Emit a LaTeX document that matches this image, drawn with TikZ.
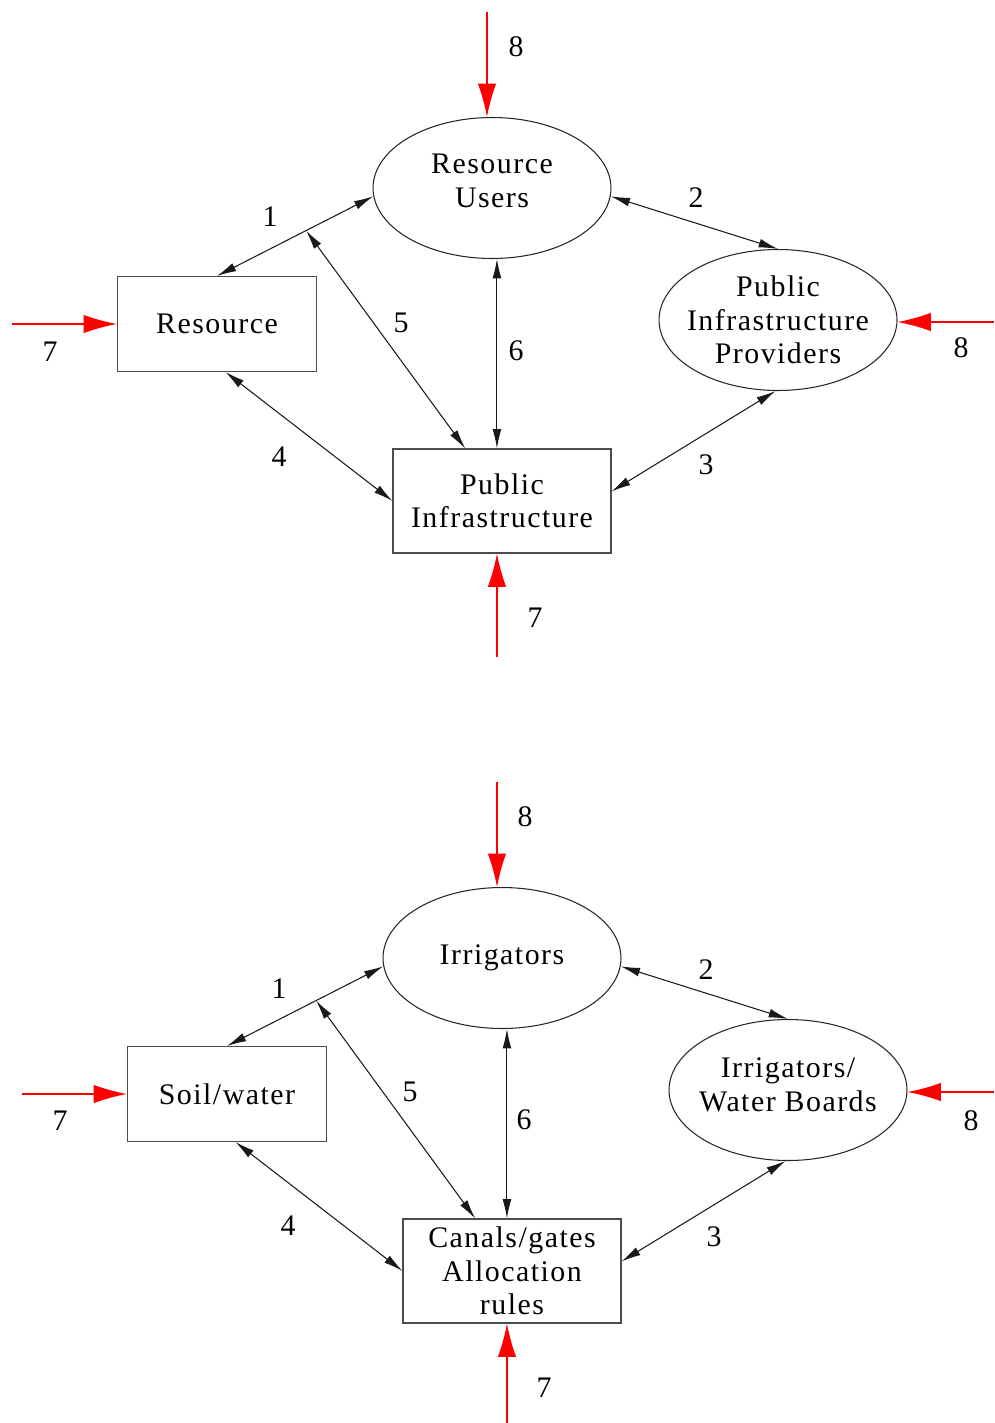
\documentclass[tikz,border=0pt]{standalone}
\usepackage{fontspec}
\setmainfont{Liberation Serif}[LetterSpace=5]
\usetikzlibrary{shapes.geometric}
\usetikzlibrary{arrows.meta}

\begin{document}
\begin{tikzpicture}[x=0.02cm, y=-0.02cm, line width=0.6pt,
    font=\fontsize{17}{19}\selectfont,
    oval/.style ={ellipse, draw=black!85, minimum width=4.76cm, minimum height=2.82cm, inner sep=0pt},
    box/.style ={rectangle, draw=black!70, align=center, inner sep=0pt, minimum width=3.98cm, minimum height=1.9cm},
    bigbox/.style ={box, minimum width=4.36cm, minimum height=2.08cm},
    txt/.style ={align=center, inner sep=0pt},
    link/.style ={{Latex[length=11pt,width=5pt]}-{Latex[length=11pt,width=5pt]}, black!90},
    driver/.style ={-{Latex[length=19pt,width=10.5pt]}, red, line width=0.75pt},
    num/.style ={inner sep=1pt}]
  \useasboundingbox (0,0) rectangle (994,1423);

  % general framework
  \begin{scope}
    \node[oval] (RU) at (492,188) {} ;
    \node[txt, yshift=4pt] (RUt) at (RU) {Resource\\Users};
    \node[box] (R) at (217,324) {Resource};
    \node[oval] (PIP) at (778,320) {} ;
    \node[txt] (PIPt) at (PIP) {Public\\Infrastructure\\Providers};
    \node[bigbox] (PI) at (502,501) {Public\\Infrastructure};

    \draw[link] (R.north) -- coordinate[pos=0.57] (m1) (RU.184);
    \draw[link] (RU.356) -- (PIP.north);
    \draw[link] (PI.5) -- (PIP.268);
    \draw[link] (R.280) -- (PI.west);
    \draw[link] (PI.125) -- (m1);
    \draw[link] (RU.274) -- (PI.north -| RU.274);

    \coordinate (s8a) at (487,12);
    \coordinate (s7a) at (12,324);
    \coordinate (s8b) at (994,322);
    \coordinate (s7b) at (497,657);
    \draw[driver] (s8a) -- (s8a |- RU.north);
    \draw[driver] (s7a) -- (R.west);
    \draw[driver] (s8b) -- (s8b -| PIP.east);
    \draw[driver] (s7b) -- (s7b |- PI.south);

    \node[num] (n1) at (270,217) {1};
    \node[num] (n2) at (696,198) {2};
    \node[num] (n3) at (706,465) {3};
    \node[num] (n4) at (279,457) {4};
    \node[num] (n5) at (401,323) {5};
    \node[num] (n6) at (516,351) {6};
    \node[num] (n7a) at (50,352) {7};
    \node[num] (n7b) at (535,618) {7};
    \node[num] (n8a) at (516,47) {8};
    \node[num] (n8b) at (961,348) {8};
  \end{scope}

  % irrigation example
  \begin{scope}[shift={(10,770)}]
    \node[oval] (IR) at (492,188) {} ;
    \node[txt] (IRt) at (IR) {Irrigators};
    \node[box] (SW) at (217,324) {Soil/water};
    \node[oval] (WB) at (778,320) {} ;
    \node[txt, yshift=3pt] (WBt) at (WB) {Irrigators/\\Water Boards};
    \node[bigbox] (CG) at (502,501) {Canals/gates\\Allocation\\rules};

    \draw[link] (SW.north) -- coordinate[pos=0.57] (m2) (IR.184);
    \draw[link] (IR.356) -- (WB.north);
    \draw[link] (CG.5) -- (WB.268);
    \draw[link] (SW.280) -- (CG.west);
    \draw[link] (CG.125) -- (m2);
    \draw[link] (IR.274) -- (CG.north -| IR.274);

    \coordinate (t8a) at (487,12);
    \coordinate (t7a) at (12,324);
    \coordinate (t8b) at (984,322);
    \coordinate (t7b) at (497,653);
    \draw[driver] (t8a) -- (t8a |- IR.north);
    \draw[driver] (t7a) -- (SW.west);
    \draw[driver] (t8b) -- (t8b -| WB.east);
    \draw[driver] (t7b) -- (t7b |- CG.south);

    \node[num] (m1n) at (269,219) {1};
    \node[num] (m2n) at (696,200) {2};
    \node[num] (m3n) at (704,467) {3};
    \node[num] (m4n) at (278,456) {4};
    \node[num] (m5n) at (400,322) {5};
    \node[num] (m6n) at (514,350) {6};
    \node[num] (m7a) at (50,351) {7};
    \node[num] (m7b) at (534,618) {7};
    \node[num] (m8a) at (515,47) {8};
    \node[num] (m8b) at (961,351) {8};
  \end{scope}
\end{tikzpicture}
\end{document}
